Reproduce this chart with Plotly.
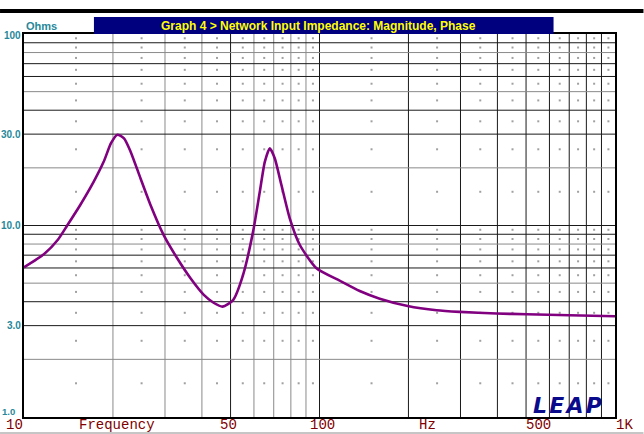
import math
import plotly.graph_objects as go

# ---- data ----
freq_hz = [10, 11.7, 13.0, 14.0, 15.5, 17.2, 18.6, 19.7, 20.7, 21.8, 22.95, 24.8, 26.8,
           29.7, 33.0, 36.6, 40.6, 43.8, 47.0, 51.0, 55.1, 59.6, 62.8, 65.3, 67.9, 70.6,
           74.3, 79.3, 85.8, 97.7, 117, 136.8, 159.9, 198.8, 249, 298, 397, 502, 701, 1000]
impedance_ohms = [6.05, 7.1, 8.4, 10.0, 12.8, 16.9, 21.5, 26.9, 29.8, 28.5, 24.3, 17.6, 12.8,
                  8.9, 6.74, 5.30, 4.34, 3.95, 3.77, 4.08, 5.51, 9.29, 15.0, 21.5, 25.3, 22.4,
                  16.3, 10.9, 7.91, 5.98, 5.15, 4.55, 4.15, 3.80, 3.61, 3.54, 3.47, 3.44, 3.40, 3.36]

x_grid = [20, 30, 40, 50, 60, 70, 80, 90, 100, 200, 300, 400, 500, 600, 700, 800, 900]
x_grid_dark = [50, 100, 200, 300, 400, 500, 600, 700, 800, 900]
y_grid = [2, 3, 4, 5, 6, 7, 8, 9, 10, 20, 30, 40, 50, 60, 70, 80, 90]
y_grid_light = [2, 5, 8, 20, 50, 80]
x_dots = [15, 25, 35, 45, 55, 65, 75, 85, 95, 150, 250, 350, 450, 550, 650, 750, 850, 950]
y_dots = [1.5, 2.5, 3.5, 4.5, 5.5, 6.5, 7.5, 8.5, 9.5, 15, 25, 35, 45, 55, 65, 75, 85, 95]

y_tick_vals = [100, 30, 10, 3]
y_tick_text = ["100", "30.0", "10.0", "3.0"]
x_label_text = ["10", "Frequency", "50", "100", "Hz", "500", "1K"]
x_label_pos = [14, 117, 229, 323, 428, 539, 625]   # pixel centres of labels

title_text = "Graph 4 > Network Input Impedance: Magnitude, Phase"

# ---- layout geometry ----
W, H = 644, 434
L, R, T, B = 24, 615.5, 34, 417


def PX(x):
    return (x - L) / (R - L)


def PY(y):
    return (B - y) / (B - T)


TEAL = "#27889a"
MAROON = "#800000"

fig = go.Figure()

# dotted minor marks
dx, dy = [], []
for xv in x_dots:
    for yv in y_dots:
        dx.append(xv)
        dy.append(yv)
fig.add_trace(go.Scatter(x=dx, y=dy, mode="markers",
                         marker=dict(size=2, color="#a0a0a0", symbol="square"),
                         hoverinfo="skip", showlegend=False))

# impedance curve
fig.add_trace(go.Scatter(x=freq_hz, y=impedance_ohms, mode="lines",
                         line=dict(color="#800080", width=2.6, shape="spline", smoothing=0.6),
                         showlegend=False))

shapes = []
for xv in x_grid:
    col = "#1a1a1a" if xv in x_grid_dark else "#8a8a8a"
    shapes.append(dict(type="line", xref="x", yref="paper", x0=xv, x1=xv, y0=0, y1=1,
                       line=dict(color=col, width=1), layer="below"))
for yv in y_grid:
    col = "#8a8a8a" if yv in y_grid_light else "#1a1a1a"
    shapes.append(dict(type="line", xref="paper", yref="y", x0=0, x1=1, y0=yv, y1=yv,
                       line=dict(color=col, width=1), layer="below"))

# title box
shapes.append(dict(type="rect", xref="paper", yref="paper",
                   x0=PX(94), x1=PX(554), y0=PY(34), y1=PY(17),
                   fillcolor="#00007f", line=dict(width=0), layer="above"))
# top heavy rule
shapes.append(dict(type="line", xref="paper", yref="paper",
                   x0=PX(0), x1=PX(W), y0=PY(11), y1=PY(11),
                   line=dict(color="black", width=4)))
# bottom thin rule
shapes.append(dict(type="line", xref="paper", yref="paper",
                   x0=PX(0), x1=PX(W), y0=PY(433), y1=PY(433),
                   line=dict(color="#8c8c8c", width=1)))

annotations = []
annotations.append(dict(text="<b>" + title_text + "</b>", xref="paper", yref="paper",
                        x=PX(319), y=PY(25.5), showarrow=False, xanchor="center", yanchor="middle",
                        font=dict(family="Liberation Sans, Arial", size=12, color="#ffff00")))
annotations.append(dict(text="<b>Ohms</b>", xref="paper", yref="paper",
                        x=PX(24), y=PY(26), showarrow=False, xanchor="left", yanchor="middle",
                        font=dict(family="Liberation Sans, Arial", size=11, color=TEAL)))
for v, t in zip(y_tick_vals, y_tick_text):
    yy = math.log10(v) if v != 100 else 1.99
    annotations.append(dict(text="<b>" + t + "</b>", xref="paper", yref="y",
                            x=PX(22), y=yy, showarrow=False,
                            xanchor="right", yanchor="middle", borderpad=0,
                            font=dict(family="Liberation Sans, Arial", size=10, color=TEAL)))
annotations.append(dict(text="<b>1.0</b>", xref="paper", yref="paper",
                        x=PX(17), y=PY(411), showarrow=False, xanchor="right", yanchor="middle",
                        font=dict(family="Liberation Sans, Arial", size=9.5, color=TEAL)))
for t, p in zip(x_label_text, x_label_pos):
    annotations.append(dict(text=t, xref="paper", yref="paper",
                            x=PX(p), y=PY(425), showarrow=False, xanchor="center", yanchor="middle",
                            font=dict(family="Liberation Mono, Courier New, monospace", size=14,
                                      color=MAROON)))
annotations.append(dict(text="<b><i>L\u200aE\u200aA\u200aP</i></b>", xref="paper", yref="paper",
                        x=PX(568), y=PY(405), showarrow=False, xanchor="center", yanchor="middle",
                        font=dict(family="DejaVu Sans", size=22, color="#0a0a8c")))

fig.update_layout(
    width=W, height=H,
    margin=dict(l=L, r=W - R, t=T, b=H - B, pad=0),
    paper_bgcolor="white", plot_bgcolor="white",
    shapes=shapes, annotations=annotations,
    showlegend=False,
)
fig.update_xaxes(type="log", range=[1, 3], showgrid=False, zeroline=False,
                 showticklabels=False, ticks="", showline=True, linewidth=2,
                 linecolor="black", mirror=True)
fig.update_yaxes(type="log", range=[0, 2], showgrid=False, zeroline=False,
                 showticklabels=False, ticks="", showline=True, linewidth=2,
                 linecolor="black", mirror=True)

fig.write_html("out.html", config={"displayModeBar": False},
               post_script="document.body.style.margin='0';document.body.style.overflow='hidden';")
